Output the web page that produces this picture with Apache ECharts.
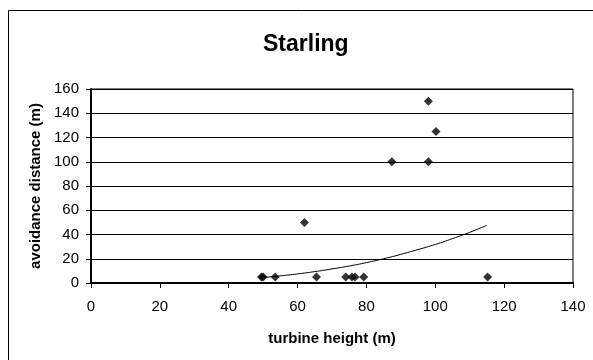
<!doctype html>
<html>
<head>
<meta charset="UTF-8">
<title>Starling</title>
<script src="https://cdn.jsdelivr.net/npm/echarts@6/dist/echarts.min.js"></script>
<style>
  html, body { margin: 0; padding: 0; background: #fff; }
  #chart { width: 593px; height: 360px; }
</style>
</head>
<body>
<div id="chart"></div>
<script>
  // observed points: turbine height (m) vs avoidance distance (m)
  var heights   = [49.5, 50, 53.5, 62, 65.5, 74, 75.8, 76.7, 79.2, 87.4, 98, 98, 100.2, 115.2];
  var distances = [5, 5, 5, 50, 5, 5, 5, 5, 5, 100, 100, 150, 125, 5];

  // trend line
  var trendX = [50, 55, 60, 65, 70, 75, 80, 85, 90, 95, 100, 105, 110, 115];
  var trendY = [4.5, 5.9, 7.5, 9.4, 11.6, 14, 16.8, 20, 23.6, 27.6, 31.8, 36.6, 41.8, 47.6];

  var xTicks = [0, 20, 40, 60, 80, 100, 120, 140];
  var yTicks = [0, 20, 40, 60, 80, 100, 120, 140, 160];

  var pts = heights.map(function (h, i) { return [h, distances[i]]; });
  var trend = trendX.map(function (x, i) { return [x, trendY[i]]; });

  var font = 'Liberation Sans, Arial, sans-serif';
  var chart = echarts.init(document.getElementById('chart'));

  chart.setOption({
    animation: false,
    backgroundColor: '#fff',
    textStyle: { fontFamily: font },
    title: {
      text: 'Starling',
      left: 258,
      top: 28,
      textStyle: { fontFamily: font, fontSize: 23, fontWeight: 'bold', color: '#000' }
    },
    graphic: [{
      type: 'rect',
      shape: { x: 8.5, y: 10.5, width: 700, height: 400 },
      style: { fill: 'none', stroke: '#000', lineWidth: 1 },
      silent: true
    }],
    grid: {
      left: 91, right: 20, top: 89, bottom: 77,
      show: true, borderColor: '#000', borderWidth: 1
    },
    xAxis: {
      type: 'value',
      min: xTicks[0], max: xTicks[xTicks.length - 1], interval: 20,
      name: 'turbine height (m)',
      nameLocation: 'middle',
      nameGap: 48,
      nameTextStyle: { fontFamily: font, fontSize: 15, fontWeight: 'bold', color: '#000' },
      axisLine: { lineStyle: { color: '#000', width: 2 } },
      axisTick: { show: true, length: 5, lineStyle: { color: '#000' } },
      axisLabel: { fontFamily: font, fontSize: 15, color: '#000', margin: 16 },
      splitLine: { show: false }
    },
    yAxis: {
      type: 'value',
      min: yTicks[0], max: yTicks[yTicks.length - 1], interval: 20,
      name: 'avoidance distance (m)',
      nameLocation: 'middle',
      nameGap: 48,
      nameTextStyle: { fontFamily: font, fontSize: 15, fontWeight: 'bold', color: '#000' },
      axisLine: { show: true, lineStyle: { color: '#000', width: 2 } },
      axisTick: { show: true, length: 5, lineStyle: { color: '#000' } },
      axisLabel: { fontFamily: font, fontSize: 15, color: '#000', margin: 12 },
      splitLine: { show: true, lineStyle: { color: '#000', width: 1 } }
    },
    series: [{
      type: 'line',
      data: trend,
      smooth: true,
      symbol: 'none',
      lineStyle: { color: '#000', width: 1 },
      z: 2
    }, {
      type: 'scatter',
      data: pts,
      symbol: 'diamond',
      symbolSize: 9,
      itemStyle: { color: '#000' },
      z: 3
    }]
  });
</script>
</body>
</html>
